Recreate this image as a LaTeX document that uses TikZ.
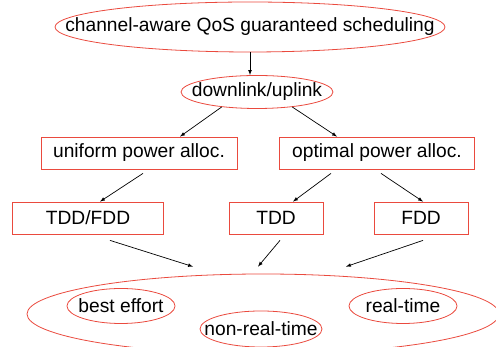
\documentclass[tikz,border=0pt]{standalone}
\usepackage{fontspec}
\setmainfont{Liberation Sans}
\usepackage{tikz}
\usepackage{xcolor}
\usetikzlibrary{%
	calc,%
	arrows,%
	shapes.geometric
}
\definecolor{boxred}{RGB}{234,74,62}

\begin{document}
\begin{tikzpicture}
		[x=1pt,y=1pt,
		font=\fontsize{19.2}{22}\selectfont,
		oval/.style={draw=boxred,line width=0.8pt,ellipse,inner sep=0pt},
		box/.style={draw=boxred,line width=0.8pt,rectangle,inner sep=0pt,minimum height=32pt},
		arr/.style={->,>=latex,line width=0.7pt}
		]
		\useasboundingbox (0,0) rectangle (496,347);
		
		% top and second level
		\node[oval,minimum width=390pt,minimum height=50pt,label=center:{channel-aware QoS guaranteed scheduling}] (top) at (250,320) {};
		\node[oval,minimum width=152pt,minimum height=33pt,label=center:{downlink/uplink}] (dl) at (257,255) {};
		
		% power allocation
		\node[box,minimum width=196pt] (uni) at (139,194) {uniform power alloc.};
		\node[box,minimum width=195pt] (opt) at (377,194) {optimal power alloc.};
		
		% duplexing
		\node[box,minimum width=151pt] (tf) at (88,129) {TDD/FDD};
		\node[box,minimum width=94pt] (tdd) at (276,129) {TDD};
		\node[box,minimum width=94pt] (fdd) at (421,129) {FDD};
		
		% traffic classes
		\node[oval,minimum width=472pt,minimum height=80pt] (big) at (263,33) {};
		\node[oval,minimum width=108pt,minimum height=35pt,label=center:{best effort}] (be) at (121,41) {};
		\node[oval,minimum width=122pt,minimum height=36pt,label=center:{non-real-time}] (nrt) at (261,18) {};
		\node[oval,minimum width=108pt,minimum height=35pt,label=center:{real-time}] (rt) at (403,41) {};
		
		\draw[arr] (top.south) -- (top.south |- dl.north);
		\draw[arr] (dl.203) -- ([xshift=41pt]uni.north);
		\draw[arr] (dl.-23) -- ([xshift=-40pt]opt.north);
		\draw[arr] ([xshift=4pt,yshift=-4pt]uni.south) -- ([xshift=12pt]tf.north);
		\draw[arr] ([xshift=-46pt,yshift=-4pt]opt.south) -- ([xshift=17pt]tdd.north);
		\draw[arr] ([xshift=4pt,yshift=-4pt]opt.south) -- ([xshift=2pt]fdd.north);
		\draw[arr] ([xshift=22pt,yshift=-6pt]tf.south) -- ([shift={(-70pt,7pt)}]big.north);
		\draw[arr] ([xshift=4pt,yshift=-6pt]tdd.south) -- ([shift={(-5pt,7pt)}]big.north);
		\draw[arr] ([xshift=2pt,yshift=-6pt]fdd.south) -- ([shift={(83pt,7pt)}]big.north);
	\end{tikzpicture}
\end{document}
